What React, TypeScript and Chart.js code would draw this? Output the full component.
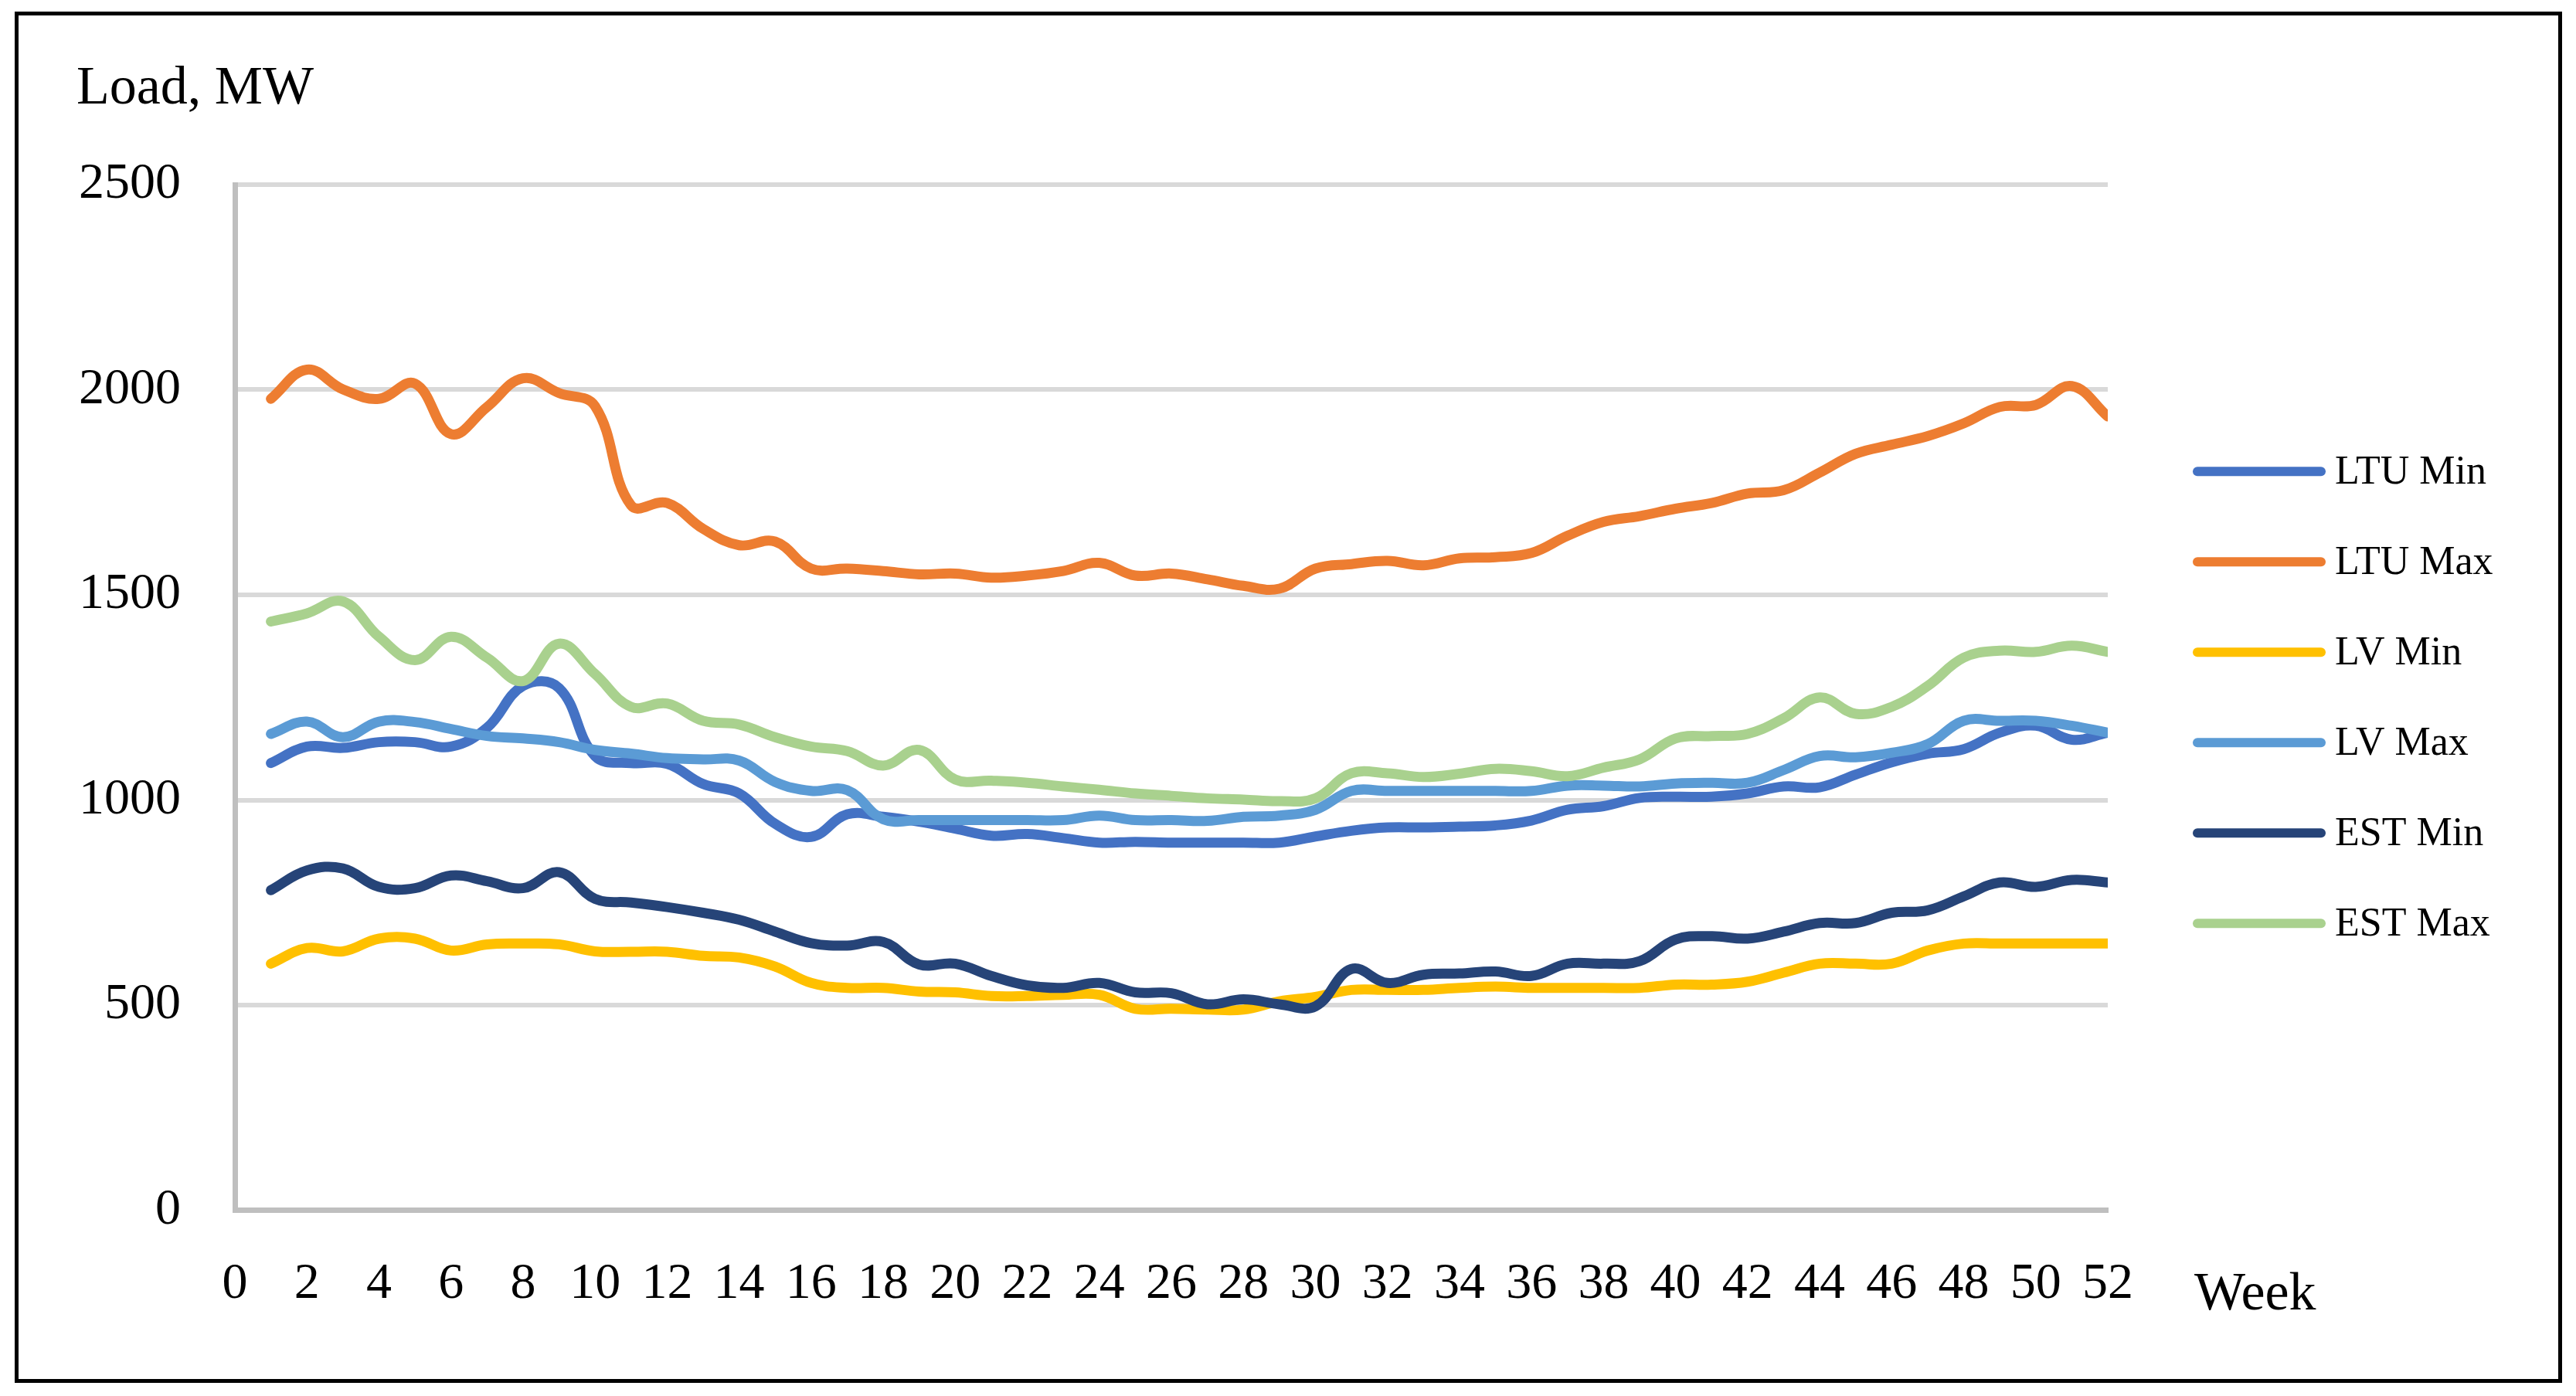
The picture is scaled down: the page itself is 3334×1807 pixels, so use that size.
import React, { useEffect, useRef } from 'react';
import { Chart, registerables } from 'chart.js';

Chart.register(...registerables);

const weeks = Array.from({ length: 52 }, (_, i) => i + 1);

const seriesNames = ['LTU Min', 'LTU Max', 'LV Min', 'LV Max', 'EST Min', 'EST Max'];
const seriesColors = ['#4472C4', '#ED7D31', '#FFC000', '#5B9BD5', '#264478', '#A9D18E'];

const ltuMin = [1090, 1130, 1127, 1141, 1141, 1130, 1176, 1278, 1273, 1107, 1090, 1088, 1039, 1016, 942, 910, 965, 959, 947, 930, 913, 917, 907, 896, 898, 896, 896, 896, 896, 911, 925, 933, 933, 935, 938, 950, 976, 985, 1005, 1008, 1008, 1016, 1033, 1031, 1062, 1092, 1113, 1124, 1164, 1181, 1147, 1164];
const ltuMax = [1978, 2049, 2001, 1978, 2015, 1892, 1958, 2028, 1992, 1960, 1718, 1724, 1661, 1621, 1630, 1564, 1564, 1558, 1550, 1552, 1542, 1547, 1558, 1578, 1547, 1552, 1538, 1522, 1515, 1564, 1575, 1583, 1572, 1589, 1592, 1602, 1644, 1678, 1692, 1710, 1724, 1747, 1755, 1798, 1844, 1866, 1887, 1918, 1958, 1963, 2009, 1935];
const lvMin = [601, 639, 631, 662, 662, 633, 648, 650, 648, 631, 630, 630, 620, 616, 594, 554, 542, 542, 533, 531, 522, 522, 525, 525, 491, 491, 489, 489, 509, 520, 537, 537, 537, 542, 545, 542, 542, 542, 542, 550, 550, 557, 579, 601, 601, 601, 633, 650, 650, 650, 650, 650];
const lvMax = [1161, 1191, 1153, 1191, 1190, 1173, 1156, 1150, 1141, 1122, 1113, 1102, 1099, 1096, 1044, 1022, 1024, 953, 951, 951, 951, 951, 951, 962, 951, 951, 949, 959, 962, 976, 1022, 1022, 1022, 1022, 1022, 1022, 1035, 1035, 1033, 1040, 1042, 1042, 1073, 1107, 1104, 1115, 1136, 1193, 1193, 1193, 1181, 1164];
const estMin = [780, 828, 833, 788, 785, 816, 802, 785, 824, 759, 750, 739, 725, 708, 679, 651, 645, 654, 599, 601, 571, 548, 542, 554, 531, 529, 502, 514, 502, 497, 588, 554, 574, 577, 582, 571, 601, 601, 607, 660, 668, 662, 679, 700, 700, 725, 731, 765, 799, 788, 805, 799];
const estMax = [1435, 1455, 1484, 1398, 1341, 1398, 1347, 1290, 1381, 1307, 1227, 1235, 1193, 1184, 1153, 1130, 1119, 1084, 1122, 1050, 1047, 1042, 1033, 1025, 1016, 1010, 1004, 1001, 997, 1004, 1065, 1065, 1056, 1064, 1076, 1070, 1058, 1079, 1099, 1150, 1156, 1161, 1199, 1250, 1210, 1227, 1278, 1347, 1364, 1361, 1376, 1361];

const seriesValues = [ltuMin, ltuMax, lvMin, lvMax, estMin, estMax];

const yMin = 0;
const yMax = 2500;
const yStep = 500;
const xMin = 0;
const xMax = 52;
const xStep = 2;

const yAxisTitle = 'Load, MW';
const xAxisTitle = 'Week';

const FONT = '"Liberation Serif", "Times New Roman", serif';
const LINE_W = 13;

const overlayPlugin = {
  id: 'overlay',
  afterDraw(chart: any) {
    const { ctx, chartArea } = chart;
    ctx.save();
    ctx.fillStyle = '#000';
    ctx.textAlign = 'left';
    ctx.textBaseline = 'alphabetic';
    ctx.font = `70px ${FONT}`;
    ctx.fillText(yAxisTitle, chartArea.left - 205, chartArea.top - 105);
    ctx.fillText(xAxisTitle, chartArea.right + 112, chartArea.bottom + 128);

    const cy = (chartArea.top + chartArea.bottom) / 2;
    const x0 = chartArea.right + 110;
    chart.data.datasets.forEach((ds: any, i: number) => {
      const y = cy + (i - 2.5) * 117;
      ctx.strokeStyle = ds.borderColor;
      ctx.lineWidth = 12;
      ctx.lineCap = 'round';
      ctx.beginPath();
      ctx.moveTo(x0 + 6, y);
      ctx.lineTo(x0 + 166, y);
      ctx.stroke();
      ctx.font = `52px ${FONT}`;
      ctx.textBaseline = 'middle';
      ctx.fillStyle = '#000';
      ctx.fillText(ds.label, x0 + 184, y + 2);
    });
    ctx.restore();
  },
};

export default function App() {
  const canvasRef = useRef<HTMLCanvasElement | null>(null);

  useEffect(() => {
    if (!canvasRef.current) return;
    const datasets = seriesNames.map((name, i) => ({
      label: name,
      data: weeks.map((w, j) => ({ x: w, y: seriesValues[i][j] })),
      borderColor: seriesColors[i],
      backgroundColor: seriesColors[i],
      borderWidth: LINE_W,
      pointRadius: 0,
      pointHoverRadius: 0,
      tension: 0.4,
      borderCapStyle: 'round' as const,
      borderJoinStyle: 'round' as const,
      fill: false,
      order: seriesNames.length - i,
    }));

    const chart = new Chart(canvasRef.current, {
      type: 'line',
      data: { datasets },
      options: {
        animation: false,
        responsive: true,
        maintainAspectRatio: false,
        layout: { padding: { left: 50, right: 606, top: 239, bottom: 90.5 } },
        plugins: {
          legend: { display: false },
          tooltip: { enabled: false },
          title: { display: false },
        },
        scales: {
          x: {
            type: 'linear',
            min: xMin,
            max: xMax,
            afterFit: (scale: any) => {
              scale.height = 150;
            },
            ticks: {
              stepSize: xStep,
              color: '#000',
              font: { family: FONT, size: 66 },
              padding: 57,
              maxRotation: 0,
              autoSkip: false,
              callback: (v: any) => String(v),
            },
            grid: { display: false, drawTicks: false },
            border: { display: true, color: '#BFBFBF', width: 7 },
          },
          y: {
            type: 'linear',
            min: yMin,
            max: yMax,
            afterFit: (scale: any) => {
              scale.width = 254;
            },
            ticks: {
              stepSize: yStep,
              color: '#000',
              font: { family: FONT, size: 66 },
              padding: 70,
              callback: (v: any) => String(v),
            },
            grid: {
              drawTicks: false,
              color: (ctx: any) => (ctx.tick && ctx.tick.value === 0 ? '#BFBFBF' : '#D9D9D9'),
              lineWidth: (ctx: any) => (ctx.tick && ctx.tick.value === 0 ? 7 : 6),
            },
            border: { display: true, color: '#BFBFBF', width: 7 },
          },
        },
      },
      plugins: [overlayPlugin],
    });
    return () => chart.destroy();
  }, []);

  return (
    <div style={{ position: 'fixed', left: 0, top: 0, width: 3334, height: 1807, background: '#fff' }}>
      <div style={{ position: 'absolute', left: 0, top: 0, width: 3334, height: 1807 }}>
        <canvas ref={canvasRef} />
      </div>
      <div
        style={{
          position: 'absolute',
          left: 19,
          top: 15,
          width: 3297,
          height: 1775,
          border: '5px solid #000',
          boxSizing: 'border-box',
          pointerEvents: 'none',
        }}
      />
    </div>
  );
}
